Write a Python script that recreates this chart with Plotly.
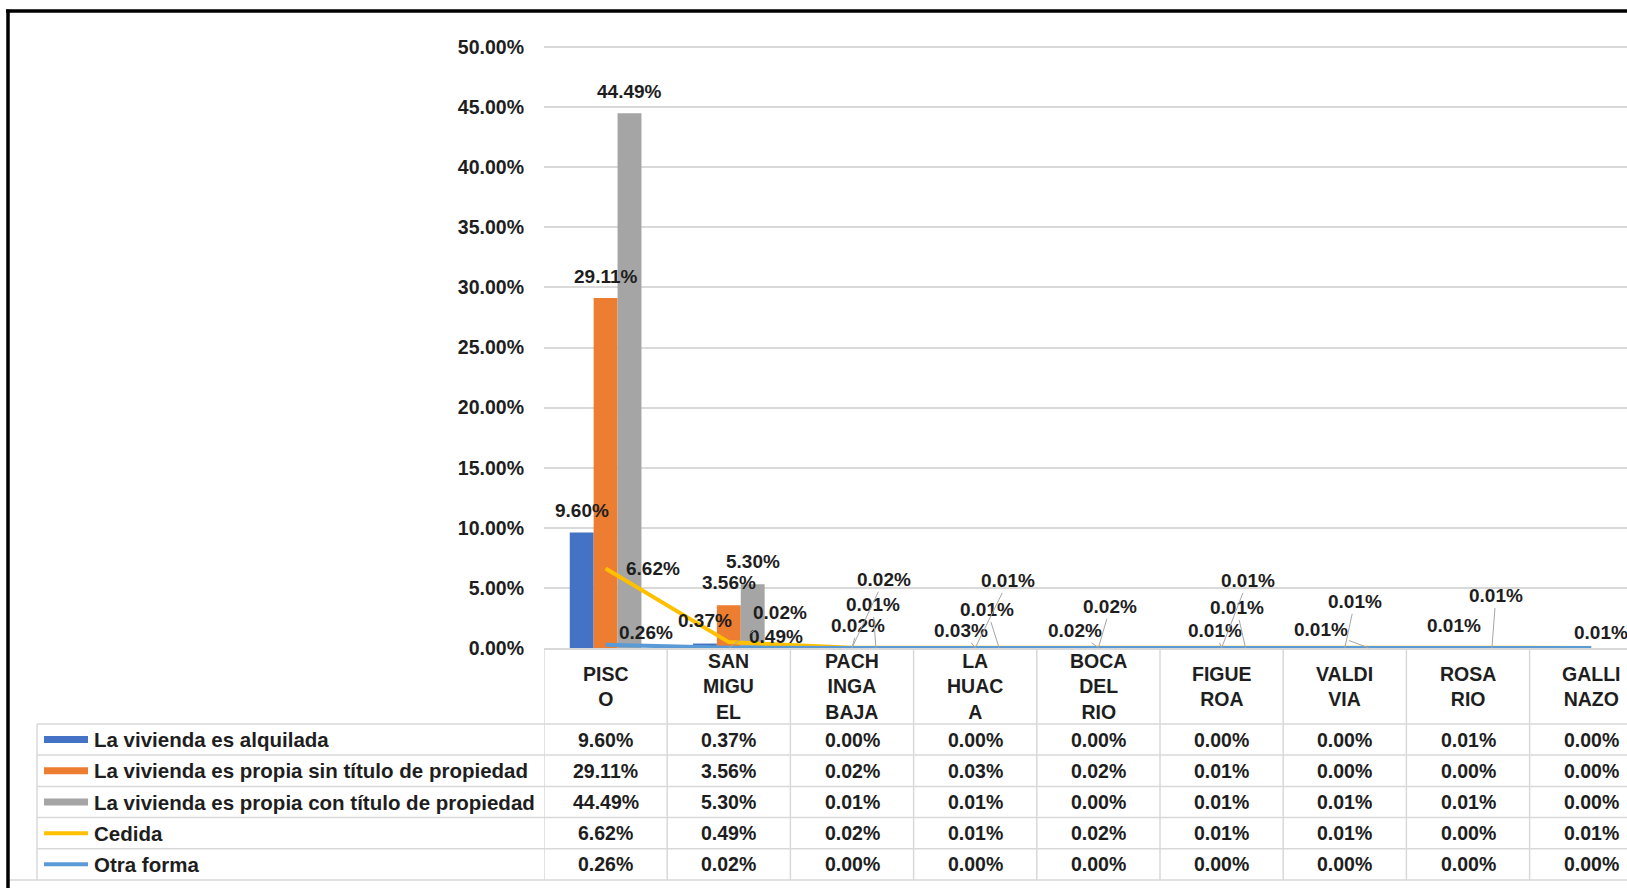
import plotly.graph_objects as go

# ---------------- data ----------------
categories = ["PISCO", "SAN MIGUEL", "PACHINGA BAJA", "LA HUACA", "BOCA DEL RIO",
              "FIGUEROA", "VALDIVIA", "ROSARIO", "GALLINAZO"]
header_labels = ["PISC<br>O", "SAN<br>MIGU<br>EL", "PACH<br>INGA<br>BAJA", "LA<br>HUAC<br>A",
                 "BOCA<br>DEL<br>RIO", "FIGUE<br>ROA", "VALDI<br>VIA", "ROSA<br>RIO", "GALLI<br>NAZO"]
alquilada = [9.60, 0.37, 0.00, 0.00, 0.00, 0.00, 0.00, 0.01, 0.00]
sin_titulo = [29.11, 3.56, 0.02, 0.03, 0.02, 0.01, 0.00, 0.00, 0.00]
con_titulo = [44.49, 5.30, 0.01, 0.01, 0.00, 0.01, 0.01, 0.01, 0.00]
cedida = [6.62, 0.49, 0.02, 0.01, 0.02, 0.01, 0.01, 0.00, 0.01]
otra_forma = [0.26, 0.02, 0.00, 0.00, 0.00, 0.00, 0.00, 0.00, 0.00]
series_names = ["La vivienda es alquilada",
                "La vivienda es propia sin título de propiedad",
                "La vivienda es propia con título de propiedad",
                "Cedida", "Otra forma"]
y_ticks = [0, 5, 10, 15, 20, 25, 30, 35, 40, 45, 50]

# ---------------- style / geometry ----------------
W_FIG, H_FIG = 1627, 888
ML, MR, MT, MB = 544, 0, 41, 240
PW = W_FIG - ML - MR
PH = H_FIG - MT - MB
Y_MAX = 50.5
CAT_PX = 123.2
FONT = "Liberation Sans, Arial, sans-serif"
TXT = "#1e1e1e"
GRID = "#D9D9D9"
colors = ["#4472C4", "#ED7D31", "#A5A5A5", "#FFC000", "#5B9BD5"]
BARGAP = 0.418
bar_w = (1 - BARGAP) / 3
bar_off = [-bar_w, 0.0, bar_w]


def px_x(X):
    return (X - ML) / PW


def px_y(Y):
    return (H_FIG - MB - Y) / PH


def pct(v):
    return f"{v:.2f}%"


def fnt(size):
    return dict(family=FONT, size=size, color=TXT, weight="bold")


series_vals = [alquilada, sin_titulo, con_titulo, cedida, otra_forma]
idx = list(range(len(categories)))

fig = go.Figure()
for k in range(3):
    fig.add_trace(go.Bar(x=idx, y=series_vals[k], name=series_names[k],
                         marker=dict(color=colors[k], line=dict(width=0)),
                         showlegend=False))
fig.add_trace(go.Scatter(x=idx, y=cedida, name=series_names[3], mode="lines",
                         line=dict(color=colors[3], width=4), showlegend=False))
fig.add_trace(go.Scatter(x=idx, y=otra_forma, name=series_names[4], mode="lines",
                         line=dict(color=colors[4], width=4), showlegend=False))

annotations = []
shapes = []

# ---------------- data labels ----------------
# (series index, category index, dx px, dy px, leader line)
label_specs = [
    (0, 0, 0, -22, False), (1, 0, 0, -22, False), (2, 0, 0, -22, False),
    (3, 0, 47, 0, False), (4, 0, 40, -12, False),
    (0, 1, 0, -23, False), (1, 1, 0, -23, False), (2, 1, 0, -23, False),
    (3, 1, 47, -6, False), (4, 1, 51, -35, True),
    (1, 2, 6, -22, True), (2, 2, -3, -43, True), (3, 2, 32, -68, True),
    (1, 3, -14, -17, True), (2, 3, -12, -38, True), (3, 3, 33, -67, True),
    (1, 4, -23, -17, True), (3, 4, 12, -41, True),
    (1, 5, -7, -17, True), (2, 5, -9, -40, True), (3, 5, 26, -67, True),
    (2, 6, -48, -18, True), (3, 6, 10, -46, True),
    (0, 7, 10, -22, False), (2, 7, 4, -52, True),
    (3, 8, 10, -15, False),
]
for s, c, dx, dy, leader in label_specs:
    xpos = c + (bar_off[s] if s < 3 else 0.0)
    val = series_vals[s][c]
    base = dict(x=xpos, y=val, xref="x", yref="y", text=pct(val), font=fnt(19))
    if leader:
        annotations.append(dict(base, showarrow=True, ax=dx, ay=dy, arrowhead=0,
                                arrowwidth=1, arrowcolor="#A6A6A6", standoff=0,
                                startstandoff=0))
    else:
        annotations.append(dict(base, showarrow=False, xshift=dx, yshift=-dy,
                                xanchor="center", yanchor="middle"))

# ---------------- data table ----------------
row_lines = [724, 755, 786.5, 817.6, 848.7, 880]
row_centers = [(row_lines[i] + row_lines[i + 1]) / 2 for i in range(5)]
header_center = (648 + 724) / 2

for c in idx:
    annotations.append(dict(x=c, y=px_y(header_center), xref="x", yref="paper",
                            text=header_labels[c], showarrow=False,
                            xanchor="center", yanchor="middle", font=fnt(19.5)))
    for r in range(5):
        annotations.append(dict(x=c, y=px_y(row_centers[r]), xref="x", yref="paper",
                                text=pct(series_vals[r][c]), showarrow=False,
                                xanchor="center", yanchor="middle", font=fnt(19.5)))

for r in range(5):
    annotations.append(dict(x=px_x(92), y=px_y(row_centers[r]), xref="paper", yref="paper",
                            text=series_names[r], showarrow=False,
                            xanchor="left", yanchor="middle", font=fnt(20.5)))
    yc = px_y(row_centers[r])
    if r < 3:
        shapes.append(dict(type="rect", xref="paper", yref="paper",
                           x0=px_x(44), x1=px_x(88), y0=px_y(row_centers[r] + 3.5),
                           y1=px_y(row_centers[r] - 3.5), fillcolor=colors[r],
                           line=dict(width=0)))
    else:
        shapes.append(dict(type="line", xref="paper", yref="paper",
                           x0=px_x(44), x1=px_x(88), y0=yc, y1=yc,
                           line=dict(color=colors[r], width=4)))

# horizontal table lines
for i, yl in enumerate(row_lines):
    x_start = 9 if i == len(row_lines) - 1 else 37
    shapes.append(dict(type="line", xref="paper", yref="paper",
                       x0=px_x(x_start), x1=1.02, y0=px_y(yl), y1=px_y(yl),
                       line=dict(color=GRID, width=1.5)))
# vertical table lines
for c in range(len(categories)):
    shapes.append(dict(type="line", xref="x", yref="paper", x0=c - 0.5, x1=c - 0.5,
                       y0=px_y(648), y1=px_y(880), line=dict(color=GRID, width=1.5)))
shapes.append(dict(type="line", xref="paper", yref="paper", x0=px_x(37), x1=px_x(37),
                   y0=px_y(724), y1=px_y(880), line=dict(color=GRID, width=1.5)))

# outer black frame (top and left visible)
shapes.append(dict(type="line", xref="paper", yref="paper", x0=px_x(6), x1=1.02,
                   y0=px_y(11), y1=px_y(11), line=dict(color="black", width=3.5)))
shapes.append(dict(type="line", xref="paper", yref="paper", x0=px_x(8), x1=px_x(8),
                   y0=px_y(9.5), y1=px_y(892), line=dict(color="black", width=3.5)))

fig.update_layout(
    width=W_FIG, height=H_FIG, autosize=False,
    margin=dict(l=ML, r=MR, t=MT, b=MB, pad=0),
    paper_bgcolor="white", plot_bgcolor="white",
    barmode="group", bargap=BARGAP, bargroupgap=0,
    showlegend=False,
    annotations=annotations, shapes=shapes,
    xaxis=dict(range=[-0.5, -0.5 + PW / CAT_PX], showticklabels=False, showgrid=False,
               zeroline=False, showline=True, linecolor=GRID, linewidth=1.5, ticks=""),
    yaxis=dict(range=[0, Y_MAX], tickvals=y_ticks, ticktext=[pct(v) for v in y_ticks],
               showgrid=True, gridcolor=GRID, gridwidth=1.5, zeroline=False,
               showline=False, ticks="", ticklabelstandoff=19,
               tickfont=fnt(19.5)),
    font=dict(family=FONT, color=TXT),
)

fig.write_html("out.html", config={"displayModeBar": False},
               post_script="document.body.style.margin='0';document.body.style.overflow='hidden';")
